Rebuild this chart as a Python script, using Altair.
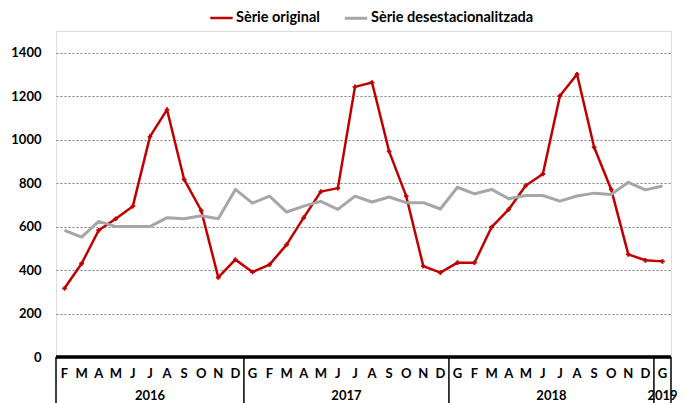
import altair as alt
import pandas as pd

months = ["F","M","A","M","J","J","A","S","O","N","D",
          "G","F","M","A","M","J","J","A","S","O","N","D",
          "G","F","M","A","M","J","J","A","S","O","N","D",
          "G"]
years = ["2016"]*11 + ["2017"]*12 + ["2018"]*12 + ["2019"]*1

original = [316, 430, 583, 636, 694, 1014, 1138, 817, 674, 366, 448,
            391, 425, 517, 641, 761, 777, 1243, 1263, 946, 740, 418, 388,
            434, 434, 598, 679, 789, 842, 1202, 1301, 965, 771, 472, 445,
            440]
desest = [583, 552, 624, 600, 600, 600, 641, 636, 650, 636, 771,
          708, 740, 667, 694, 716, 679, 740, 713, 736, 710, 710, 681,
          781, 751, 771, 728, 743, 743, 717, 741, 754, 748, 804, 769,
          787]

series_names = ["Sèrie original", "Sèrie desestacionalitzada"]
series_colors = ["#C00000", "#A6A6A6"]
boundaries = [-0.5, 10.5, 22.5, 34.5, 35.5]

n = len(months)
rows = []
for i in range(n):
    rows.append({"idx": i, "serie": series_names[0], "value": original[i]})
    rows.append({"idx": i, "serie": series_names[1], "value": desest[i]})
df = pd.DataFrame(rows)
df_m = pd.DataFrame({"idx": list(range(n)), "month": months, "year": years})
df_b = pd.DataFrame({"b": boundaries})

FONT = "Lato"
W, H = 615, 326

xscale = alt.Scale(domain=[-0.5, n - 0.5], nice=False, zero=False)
yscale = alt.Scale(domain=[0, 1500], nice=False)

base = alt.Chart(df)

lines = base.mark_line(strokeJoin="round").encode(
    x=alt.X("idx:Q", scale=xscale, axis=None),
    y=alt.Y("value:Q", scale=yscale,
            axis=alt.Axis(values=[0, 200, 400, 600, 800, 1000, 1200, 1400],
                          format="d",
                          title=None, ticks=False, domain=False,
                          labelFont=FONT, labelFontWeight="bold", labelFontSize=13,
                          labelColor="black", labelPadding=15,
                          gridColor="#808080", gridDash=[2, 2], gridWidth=1)),
    color=alt.Color("serie:N", sort=series_names,
                    scale=alt.Scale(domain=series_names, range=series_colors),
                    legend=alt.Legend(title=None, orient="none", direction="horizontal",
                                      legendX=153, legendY=-26,
                                      symbolType="stroke", symbolStrokeWidth=3,
                                      symbolSize=500, columnPadding=18,
                                      labelFont=FONT, labelFontWeight="bold",
                                      labelFontSize=14.5, labelColor="black",
                                      labelOffset=2, labelLimit=400)),
    strokeWidth=alt.StrokeWidth("serie:N", scale=alt.Scale(domain=series_names, range=[2.5, 3]), legend=None),
    order="idx:Q",
)

pts = alt.Chart(df).transform_filter(alt.datum.serie == series_names[0]).mark_point(
    shape="cross", filled=True, size=22, color="#C00000", opacity=1
).encode(
    x=alt.X("idx:Q", scale=xscale),
    y=alt.Y("value:Q", scale=yscale),
)

zero_line = alt.Chart(df_b).mark_rule(color="black", strokeWidth=2.5).encode(
    y=alt.datum(0)
)

seps = alt.Chart(df_b).mark_rule(color="black", strokeWidth=1.5).encode(
    x=alt.X("b:Q", scale=xscale),
    y=alt.value(H),
    y2=alt.value(H + 46),
)

month_text = alt.Chart(df_m).mark_text(
    font=FONT, fontWeight="bold", fontSize=13, color="black", baseline="middle"
).encode(
    x=alt.X("idx:Q", scale=xscale),
    y=alt.value(H + 17),
    text="month:N",
)

year_text = alt.Chart(df_m).transform_aggregate(
    cx="mean(idx)", groupby=["year"]
).mark_text(
    font=FONT, fontWeight="bold", fontSize=13, color="black", baseline="middle"
).encode(
    x=alt.X("cx:Q", scale=xscale),
    y=alt.value(H + 39),
    text="year:N",
)

chart = alt.layer(lines, pts, zero_line, seps, month_text, year_text).properties(
    width=W, height=H,
    autosize=alt.AutoSizeParams(type="none"),
    padding={"left": 48, "top": 23, "right": 6, "bottom": 46},
).configure_view(stroke="black", strokeWidth=1.5).configure(background="white")

chart.save("out.html", embed_options={"renderer": "svg", "actions": False})
